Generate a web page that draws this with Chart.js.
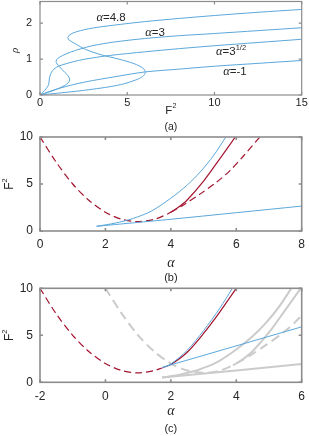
<!DOCTYPE html>
<html>
<head>
<meta charset="utf-8">
<script src="https://cdn.jsdelivr.net/npm/chart.js@4.4.1/dist/chart.umd.min.js"></script>
<style>
  body { margin:0; background:#fff; width:309px; height:436px; overflow:hidden; position:relative; }
  canvas { position:absolute; left:0; }
  #ca { top:0; }
  #cb { top:120px; }
  #cc { top:270px; }
</style>
</head>
<body>
<canvas id="ca" width="309" height="140"></canvas>
<canvas id="cb" width="309" height="170"></canvas>
<canvas id="cc" width="309" height="166"></canvas>
<script>
// ---- panel (a): rho against F^2, one curve per detuning alpha (points in order along the curve)
const a48F = [0, 1, 2, 3, 4, 4.8, 5.5, 5.9, 6.03, 5.92, 5.4, 4.5, 3.5, 2.6, 2.0, 1.66, 1.6, 1.72, 2.1, 3, 4.2, 6, 8, 10, 12.5, 15];
const a48R = [0, 0.05, 0.1, 0.16, 0.23, 0.31, 0.42, 0.52, 0.63, 0.74, 0.87, 1.0, 1.12, 1.27, 1.43, 1.53, 1.6, 1.68, 1.76, 1.86, 1.94, 2.04, 2.13, 2.21, 2.3, 2.38];
const a3F  = [0, 0.5, 1.0, 1.4, 1.62, 1.7, 1.63, 1.42, 1.18, 0.98, 0.92, 1.0, 1.3, 1.8, 2.3, 3, 4.2, 6, 8, 10, 12.5, 15];
const a3R  = [0, 0.08, 0.17, 0.26, 0.34, 0.42, 0.52, 0.63, 0.75, 0.86, 0.94, 1.01, 1.1, 1.2, 1.28, 1.37, 1.47, 1.57, 1.65, 1.71, 1.79, 1.87];
const aS3F = [0, 0.25, 0.42, 0.5, 0.53, 0.57, 0.66, 0.8, 1.05, 1.5, 2.2, 3, 4, 6, 8, 10, 12.5, 15];
const aS3R = [0, 0.12, 0.22, 0.3, 0.42, 0.53, 0.63, 0.72, 0.8, 0.87, 0.96, 1.03, 1.1, 1.2, 1.29, 1.37, 1.46, 1.55];
const aM1F = [0, 0.5, 1, 2, 3, 4.2, 6, 8, 10, 12.5, 15];
const aM1R = [0, 0.09, 0.17, 0.3, 0.4, 0.5, 0.64, 0.72, 0.8, 0.88, 0.96];
const aXTicks = [0, 5, 10, 15];
const aYTicks = [0, 1, 2];

// ---- panel (b): F^2 against alpha
const bDashA  = [0, 0.5, 1, 1.5, 2, 2.5, 3, 3.5, 3.9];
const bDashF  = [10, 7.3, 5.0, 3.25, 2.0, 1.25, 1.0, 1.25, 1.8];
const bRedA   = [3.9, 4.2, 4.5, 5.0, 5.5, 5.97];
const bRedF   = [1.8, 2.45, 3.3, 5.3, 7.7, 10];
const bDash2A = [4.0, 4.4, 4.9, 5.4, 5.8, 6.2, 6.72];
const bDash2F = [2.0, 2.8, 3.95, 5.2, 6.4, 7.9, 10];
const bBlueUpA = [1.73, 2.3, 2.85, 3.4, 4.0, 4.5, 4.9, 5.3, 5.7];
const bBlueUpF = [0.5, 0.84, 1.34, 2.11, 3.49, 4.89, 6.29, 8.0, 10.1];
const bBlueLoA = [1.73, 4, 8];
const bBlueLoF = [0.5, 1.25, 2.65];
const bXTicks = [0, 2, 4, 6, 8];
const bYTicks = [0, 5, 10];

// ---- panel (c): new curves, with panel (b) curves in grey behind
const cDashA = [-2, -1.5, -1, -0.5, 0, 0.5, 1, 1.5, 1.75];
const cDashF = [10, 7.25, 5.0, 3.25, 2.0, 1.25, 1.0, 1.25, 1.55];
const cRedA  = [1.75, 2.0, 2.5, 3.0, 3.5, 4.0];
const cRedF  = [1.55, 1.9, 3.2, 5.2, 7.5, 10];
const cBlueUpA = [1.75, 2.0, 2.5, 3.0, 3.5, 3.88];
const cBlueUpF = [1.55, 1.95, 3.4, 5.5, 7.9, 10];
const cBlueLoA = [1.75, 6];
const cBlueLoF = [1.6, 5.9];
const cXTicks = [-2, 0, 2, 4, 6];
const cYTicks = [0, 5, 10];

const BLUE = '#5ba7db', RED = '#a2142f', GRAY = '#cbcbcb', INK = '#262626';
Chart.defaults.font.family = 'Liberation Sans';
Chart.defaults.color = INK;

function pts(xs, ys) { return xs.map((x, i) => ({x: x, y: ys[i]})); }
function line(xs, ys, color, w, dash, order) {
  return { data: pts(xs, ys), borderColor: color, borderWidth: w, borderDash: dash || [],
           showLine: true, pointRadius: 0, tension: 0.3, fill: false, order: order };
}

// draws text made of parts with different fonts, centred at cx,cy
function rich(ctx, parts, cx, cy, rot) {
  ctx.save();
  ctx.translate(cx, cy);
  if (rot) ctx.rotate(rot);
  let w = 0;
  parts.forEach(p => { ctx.font = p.f; w += ctx.measureText(p.s).width; });
  let x = -w / 2;
  ctx.textBaseline = 'middle';
  ctx.fillStyle = INK;
  parts.forEach(p => { ctx.font = p.f; ctx.fillText(p.s, x, p.dy || 0); x += ctx.measureText(p.s).width; });
  ctx.restore();
}

const framePlugin = {
  id: 'frame',
  afterDatasetsDraw(chart, args, o) {
    const {ctx, chartArea: a, scales} = chart;
    ctx.save();
    ctx.strokeStyle = o.color; ctx.lineWidth = o.width;
    ctx.strokeRect(a.left, a.top, a.right - a.left, a.bottom - a.top);
    ctx.beginPath();
    scales.x.ticks.forEach(t => {
      const p = scales.x.getPixelForValue(t.value);
      ctx.moveTo(p, a.bottom); ctx.lineTo(p, a.bottom - 3);
      ctx.moveTo(p, a.top); ctx.lineTo(p, a.top + 3);
    });
    scales.y.ticks.forEach(t => {
      const p = scales.y.getPixelForValue(t.value);
      ctx.moveTo(a.left, p); ctx.lineTo(a.left + 3, p);
      ctx.moveTo(a.right, p); ctx.lineTo(a.right - 3, p);
    });
    ctx.stroke();
    ctx.restore();
    const cx = (a.left + a.right) / 2;
    (o.under || []).forEach(t => rich(ctx, t.parts, cx, a.bottom + t.dy));
    if (o.ytitle) rich(ctx, o.ytitle.parts, o.ytitle.x, (a.top + a.bottom) / 2 + (o.ytitle.dy || 0), -Math.PI / 2);
    (o.notes || []).forEach(t => rich(ctx, t.parts, scales.x.getPixelForValue(t.x), scales.y.getPixelForValue(t.y)));
  }
};

function makeChart(id, datasets, xr, yr, xt, yt, tickSize, pad, xh, xpad, ypad, frameOpts) {
  return new Chart(document.getElementById(id), {
    type: 'scatter',
    data: { datasets: datasets },
    plugins: [framePlugin],
    options: {
      responsive: false, animation: false, devicePixelRatio: 1,
      layout: { padding: { left: 0, right: 7.3, top: pad, bottom: 0 } },
      plugins: { legend: { display: false }, tooltip: { enabled: false }, frame: frameOpts },
      scales: {
        x: { type: 'linear', min: xr[0], max: xr[1],
             grid: { display: false, drawTicks: false }, border: { display: false },
             ticks: { font: { size: tickSize }, padding: xpad, maxRotation: 0 },
             afterBuildTicks: s => { s.ticks = xt.map(v => ({value: v})); },
             afterFit: s => { s.height = xh; s.paddingLeft = 0; s.paddingRight = 0; } },
        y: { type: 'linear', min: yr[0], max: yr[1],
             grid: { display: false, drawTicks: false }, border: { display: false },
             ticks: { font: { size: tickSize }, padding: ypad },
             afterBuildTicks: s => { s.ticks = yt.map(v => ({value: v})); },
             afterFit: s => { s.width = 40; s.paddingTop = 0; s.paddingBottom = 0; } }
      }
    }
  });
}

const sans = s => s + 'px Liberation Sans';
const ital = s => 'italic ' + s + 'px Liberation Serif';
const alpha = (rest, extra) => [{s: 'α', f: ital(12.5)}, {s: rest, f: sans(11.5)}].concat(extra || []);
const fsq = size => [{s: 'F', f: sans(size)}, {s: '2', f: sans(size * 0.62), dy: -size * 0.42}];

// panel (a)
makeChart('ca', [
  line(a48F, a48R, BLUE, 1, null, 1),
  line(a3F, a3R, BLUE, 1, null, 2),
  line(aS3F, aS3R, BLUE, 1, null, 3),
  line(aM1F, aM1R, BLUE, 1, null, 4)
], [0, 15], [0, 2.6], aXTicks, aYTicks, 11, 1.5, 45, 1.7, 8, {
  color: '#8c8c8c', width: 1.2,
  under: [{parts: fsq(11.5), dy: 16}, {parts: [{s: '(a)', f: sans(10.5)}], dy: 31.7}],
  ytitle: {parts: [{s: 'ρ', f: ital(11)}], x: 15, dy: 2},
  notes: [
    {parts: alpha('=4.8'), x: 4.07, y: 2.15},
    {parts: alpha('=3'), x: 6.59, y: 1.74},
    {parts: alpha('=3', [{s: '1/2', f: sans(7.5), dy: -4}]), x: 10.95, y: 1.19},
    {parts: alpha('=-1'), x: 11.17, y: 0.64}
  ]
});

// panel (b)
makeChart('cb', [
  line(bBlueUpA, bBlueUpF, BLUE, 1, null, 1),
  line(bBlueLoA, bBlueLoF, BLUE, 1, null, 2),
  line(bRedA, bRedF, RED, 1.2, null, 3),
  line(bDashA, bDashF, RED, 1.2, [7, 4], 4),
  line(bDash2A, bDash2F, RED, 1.2, [7, 4], 5)
], [0, 8], [0, 10], bXTicks, bYTicks, 12, 17, 59, 6.8, 7, {
  color: '#8c8c8c', width: 1.6,
  under: [{parts: [{s: 'α', f: ital(14)}], dy: 32.3}, {parts: [{s: '(b)', f: sans(11)}], dy: 46.7}],
  ytitle: {parts: fsq(12), x: 10, dy: 0}
});

// panel (c)
makeChart('cc', [
  line(cBlueUpA, cBlueUpF, BLUE, 1, null, 1),
  line(cBlueLoA, cBlueLoF, BLUE, 1, null, 2),
  line(cRedA, cRedF, RED, 1.2, null, 3),
  line(cDashA, cDashF, RED, 1.2, [7, 4], 4),
  line(bBlueUpA, bBlueUpF, GRAY, 2, null, 5),
  line(bBlueLoA, bBlueLoF, GRAY, 2, null, 6),
  line(bRedA, bRedF, GRAY, 2, null, 7),
  line(bDashA, bDashF, GRAY, 2, [9, 5], 8),
  line(bDash2A, bDash2F, GRAY, 2, [9, 5], 9)
], [-2, 6], [0, 10], cXTicks, cYTicks, 12, 18.3, 53.7, 7.2, 7, {
  color: '#8c8c8c', width: 1.6,
  under: [{parts: [{s: 'α', f: ital(14)}], dy: 29.4}, {parts: [{s: '(c)', f: sans(11)}], dy: 46.7}],
  ytitle: {parts: fsq(12), x: 10, dy: 0}
});
</script>
</body>
</html>
